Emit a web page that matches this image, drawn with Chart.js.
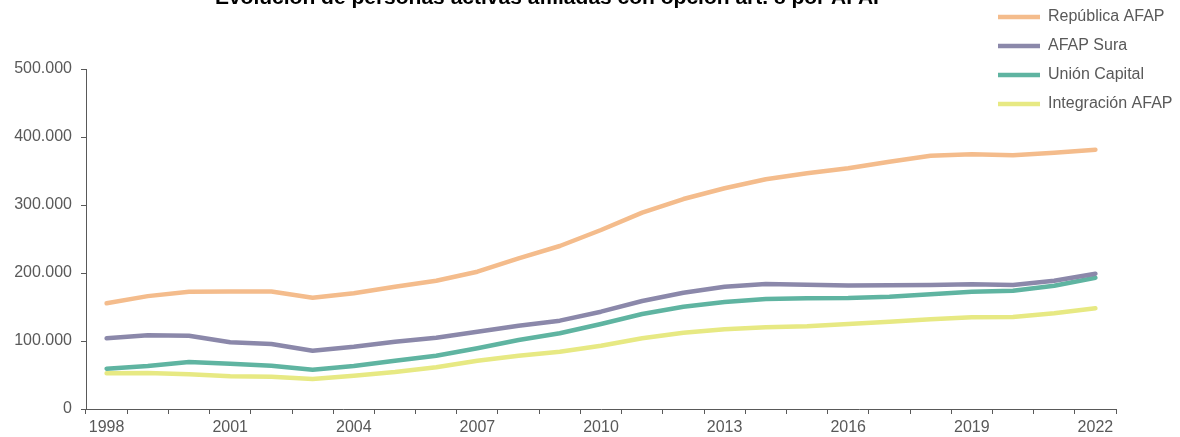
<!DOCTYPE html>
<html>
<head>
<meta charset="utf-8">
<script src="https://cdn.jsdelivr.net/npm/chart.js@4/dist/chart.umd.min.js"></script>
<style>
    body { margin: 0; background: #fff; }
    #wrap { position: relative; width: 1180px; height: 437px; overflow: hidden; }
    #afapChart { position: absolute; left: 0; top: -18px; }
</style>
</head>
<body>
<div id="wrap">
    <canvas id="afapChart" width="1180" height="455"></canvas>
</div>
<script>
const years = ['1998', '1999', '2000', '2001', '2002', '2003', '2004', '2005', '2006', '2007', '2008', '2009',
    '2010', '2011', '2012', '2013', '2014', '2015', '2016', '2017', '2018', '2019', '2020', '2021', '2022'];

const republica = [155400, 166000, 172500, 172800, 172700, 163700, 170100, 179900, 188700, 201900, 221600, 239700,
    263200, 288700, 308800, 324600, 337800, 346600, 354000, 363700, 372500, 374500, 373100, 376900, 381300];
const sura = [104000, 108400, 107800, 98100, 95600, 85700, 91600, 99000, 104900, 113700, 122500, 129900,
    143100, 158800, 171000, 179900, 183800, 182800, 181600, 181900, 182400, 183400, 182400, 188700, 199000];
const union = [59300, 63200, 69100, 66600, 63700, 57800, 63200, 71000, 78400, 89300, 101500, 111300,
    125000, 139700, 150400, 157400, 161800, 162800, 163300, 165200, 168700, 172500, 174000, 181300, 193100];
const integracion = [52500, 52900, 51000, 48100, 47500, 44100, 49000, 54400, 61300, 71000, 78400, 84300,
    93100, 104000, 112200, 117200, 120100, 121600, 125000, 128400, 131900, 134900, 135300, 140700, 148100];

const seriesNames = ['República AFAP', 'AFAP Sura', 'Unión Capital', 'Integración AFAP'];
const seriesColors = ['#f4bc8c', '#8b88aa', '#5fb4a1', '#e7e983'];
const yTicks = [0, 100000, 200000, 300000, 400000, 500000];

const axisColor = '#595959';
const font = { family: 'Liberation Sans, Arial, sans-serif', size: 16 };

function formatThousands(v) {
    return String(v).replace(/\B(?=(\d{3})+(?!\d))/g, '.');
}

// legend goes to the top right corner, over the plot; title nudged a bit left
const placeBoxes = {
    id: 'placeBoxes',
    afterLayout(chart) {
        const lg = chart.legend;
        const w = lg.width, h = lg.height;
        lg.left = 985;
        lg.top = 14;
        lg.right = lg.left + w;
        lg.bottom = lg.top + h;

        const tb = chart.titleBlock;
        tb.left -= 7;
        tb.right -= 7;
    }
};

const datasets = [republica, sura, union, integracion].map((values, i) => ({
    label: seriesNames[i],
    data: values,
    borderColor: seriesColors[i],
    backgroundColor: seriesColors[i],
    borderWidth: 4.5,
    borderCapStyle: 'round',
    borderJoinStyle: 'round',
    pointRadius: 0,
    pointHoverRadius: 0,
    tension: 0,
    fill: false
}));

new Chart(document.getElementById('afapChart').getContext('2d'), {
    type: 'line',
    data: { labels: years, datasets: datasets },
    plugins: [placeBoxes],
    options: {
        responsive: false,
        animation: false,
        layout: { padding: { left: 0, right: 64, top: 0, bottom: 0 } },
        plugins: {
            title: {
                display: true,
                text: 'Evolución de personas activas afiliadas con opción art. 8 por AFAP',
                color: '#000',
                font: { family: font.family, size: 21, weight: 'bold' },
                padding: { top: 4, bottom: 57.8 }
            },
            legend: {
                position: 'chartArea',
                align: 'start',
                labels: {
                    usePointStyle: true,
                    pointStyle: 'line',
                    pointStyleWidth: 42,
                    padding: 13,
                    color: axisColor,
                    font: font
                }
            },
            tooltip: { enabled: false }
        },
        scales: {
            x: {
                offset: true,
                afterFit: (scale) => { scale.height = 28; },
                grid: { offset: true, drawOnChartArea: false, tickLength: 5, color: axisColor },
                border: { color: axisColor, width: 1 },
                ticks: {
                    autoSkip: false,
                    maxRotation: 0,
                    padding: 4,
                    color: axisColor,
                    font: font,
                    callback: function (value, index) {
                        return index % 3 === 0 ? years[index] : '';
                    }
                }
            },
            y: {
                min: yTicks[0],
                max: yTicks[yTicks.length - 1],
                afterFit: (scale) => { scale.width = 86; },
                afterBuildTicks: (scale) => { scale.ticks = yTicks.map(v => ({ value: v })); },
                grid: { drawOnChartArea: false, tickLength: 5, color: axisColor },
                border: { color: axisColor, width: 1 },
                ticks: {
                    padding: 9,
                    color: axisColor,
                    font: font,
                    callback: (v) => formatThousands(v)
                }
            }
        }
    }
});
</script>
</body>
</html>
